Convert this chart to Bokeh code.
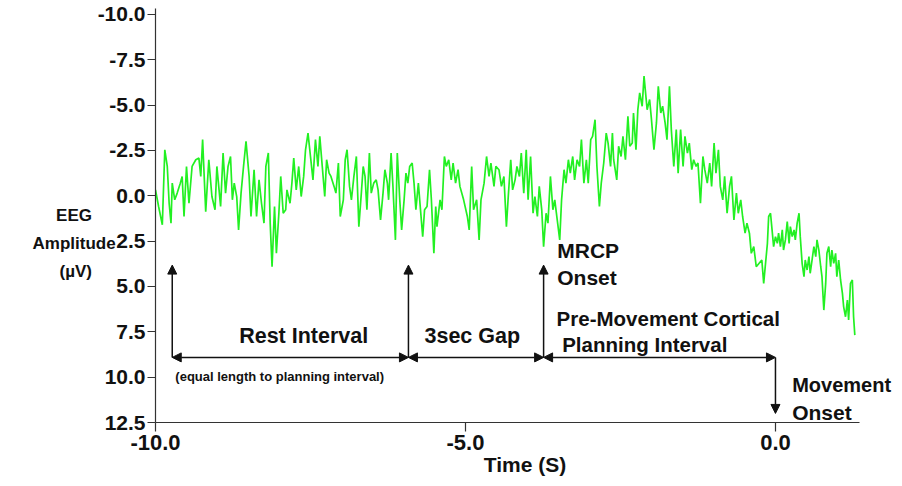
from bokeh.plotting import figure
from bokeh.models import Range1d, FixedTicker, NumeralTickFormatter, Arrow, NormalHead, Label, ColumnDataSource
from bokeh.embed import file_html
from bokeh.resources import INLINE

# ---------------- data ----------------
time_s = [
    -10.00, -9.95, -9.89, -9.85, -9.81, -9.78, -9.75, -9.73, -9.69, -9.65,
    -9.60, -9.57, -9.54, -9.50, -9.46, -9.41, -9.35, -9.30, -9.27, -9.24,
    -9.19, -9.14, -9.09, -9.04, -9.01, -8.95, -8.91, -8.87, -8.83, -8.79,
    -8.76, -8.73, -8.69, -8.66, -8.62, -8.58, -8.54, -8.49, -8.46, -8.41,
    -8.37, -8.33, -8.29, -8.25, -8.22, -8.18, -8.15, -8.12, -8.08, -8.05,
    -8.01, -7.98, -7.94, -7.90, -7.88, -7.83, -7.80, -7.77, -7.73, -7.69,
    -7.65, -7.61, -7.58, -7.54,
    -7.50, -7.46, -7.42, -7.38, -7.35, -7.31, -7.27, -7.24, -7.20, -7.17,
    -7.12, -7.09, -7.05, -7.02, -6.97, -6.94, -6.91, -6.87, -6.84, -6.80,
    -6.76, -6.72, -6.68, -6.65, -6.62, -6.59, -6.55, -6.52, -6.48, -6.44,
    -6.41, -6.37, -6.33, -6.30, -6.26, -6.24, -6.20, -6.17, -6.13, -6.10,
    -6.06, -6.03, -5.99, -5.96, -5.93, -5.90, -5.86, -5.83, -5.80, -5.76,
    -5.73, -5.69, -5.66, -5.62, -5.58, -5.55, -5.51, -5.48, -5.46, -5.41,
    -5.38, -5.34, -5.31, -5.27, -5.23, -5.20, -5.16, -5.12, -5.09,
    -5.03, -4.97, -4.94, -4.90, -4.87, -4.82, -4.78, -4.75, -4.70, -4.66,
    -4.62, -4.59, -4.54, -4.51, -4.46, -4.42, -4.38, -4.34, -4.31, -4.27,
    -4.24, -4.20, -4.17, -4.13, -4.10, -4.06, -4.02, -3.99, -3.95, -3.91,
    -3.88, -3.84, -3.81, -3.77, -3.74, -3.70, -3.67, -3.63, -3.59, -3.56,
    -3.52, -3.48, -3.45, -3.41, -3.38, -3.34, -3.31, -3.27, -3.24, -3.20,
    -3.16, -3.13, -3.09, -3.05, -3.02, -2.98, -2.95, -2.91, -2.88, -2.84,
    -2.81, -2.77, -2.73, -2.70, -2.66,
    -2.63, -2.61, -2.56, -2.53, -2.49, -2.46, -2.42, -2.38, -2.35, -2.31,
    -2.29, -2.25, -2.22, -2.19, -2.15, -2.12, -2.10, -2.07, -2.03, -2.00,
    -1.96, -1.92, -1.89, -1.85, -1.82, -1.78, -1.75, -1.71, -1.68, -1.64,
    -1.60, -1.57, -1.53, -1.49, -1.46, -1.42, -1.39, -1.35, -1.32, -1.28,
    -1.25, -1.21, -1.17, -1.14, -1.10, -1.06, -1.03, -0.99, -0.96, -0.92,
    -0.89, -0.85, -0.82, -0.78, -0.74, -0.71, -0.67, -0.63, -0.60, -0.56,
    -0.53, -0.49, -0.46, -0.42, -0.39, -0.35, -0.31,
    -0.22, -0.19, -0.16, -0.13, -0.11, -0.08, -0.05, -0.03, 0.00, 0.03,
    0.05, 0.08, 0.11, 0.13, 0.16, 0.19, 0.22, 0.24, 0.27, 0.30,
    0.32, 0.35, 0.38, 0.40, 0.43, 0.46, 0.48, 0.51, 0.54, 0.56,
    0.59, 0.62, 0.65, 0.67, 0.70, 0.73, 0.75, 0.78, 0.81, 0.83,
    0.86, 0.89, 0.91, 0.94, 0.97, 0.99, 1.02, 1.05, 1.08, 1.10,
    1.13, 1.16, 1.18, 1.21, 1.24, 1.26, 1.28,
]
amplitude_uv = [
    -0.33, 0.59, 1.60, -2.54, -1.62, 0.41, 1.51, -0.70, 0.22, -0.15,
    -0.70, -1.07, 1.14, -1.62, 0.41, -1.62, -1.99, -2.08, -1.07, -3.10,
    0.87, -1.99, 0.04, 0.77, -1.62, 0.59, -2.36, -0.15, -1.62, -2.17,
    0.22, -0.70, 0.04, 1.88, -0.15, -1.62, -3.00, -1.07, 1.14, -1.44,
    1.14, -0.88, 0.41, 1.51, -1.62, -2.36, 1.51, 3.91, 0.59, 3.17,
    0.96, -1.07, 0.96, 0.77, -0.33, 0.41, -0.70, -2.08, -0.33, -1.62,
    0.04, -1.07, -2.54, -3.46,
    -2.17, -0.88, -3.10, -1.62, -3.28, -1.62, 0.04, -1.99, -1.25, -1.07,
    -0.52, -0.15, -1.81, 1.14, 0.22, -1.99, -2.54, -0.52, 0.22, -1.07,
    -2.17, 1.70, -0.15, -1.62, -1.07, 0.77, -2.36, -0.15, -0.70, -0.88,
    -0.33, 1.33, -0.15, -1.44, -0.70, 0.22, -2.36, -0.52, 2.43, -2.36,
    0.22, 1.88, 0.22, -1.25, -0.70, -1.62, -1.81, -0.70, 0.77, -0.70,
    0.59, 2.25, 0.77, 0.59, -1.44, 0.22, 3.17, 0.59, 1.70, 0.22,
    0.77, -2.17, -1.62, -1.99, -0.88, -1.81, -0.70, -1.44, -0.52,
    0.22, 1.14, 1.88, -1.62, 0.77, 0.22, 2.43, 0.22, -0.70, -2.17,
    -1.07, -1.81, -0.52, -1.62, -1.44, -0.52, -1.07, 1.70, 0.04, -1.99,
    -0.33, -0.88, -1.62, -1.07, -2.36, -0.15, -2.54, 0.22, -2.17, 0.96,
    0.04, 1.14, -0.52, 0.77, 2.80, 0.96, 1.51, -1.07, 0.77, 0.22,
    1.33, 2.43, 0.22, -1.44, -0.70, -1.99, -1.25, -2.17, -0.88, -1.99,
    -1.62, -3.10, -0.70, -1.99, -0.70, -3.10, -3.28, -4.20, -1.62, 0.59,
    -0.70, -1.81, -3.46, -2.91, -1.62,
    -3.46, -1.99, -0.88, -2.73, -2.17, -3.28, -1.99, -4.38, -2.73, -2.91,
    -4.57, -2.54, -4.75, -5.68, -4.94, -6.60, -5.86, -4.75, -5.31, -4.20,
    -2.54, -4.02, -6.04, -4.57, -4.94, -4.02, -3.10, -6.04, -3.65, -1.62,
    -3.65, -1.25, -3.65, -1.62, -3.28, -2.36, -2.91, -1.44, -1.99, -1.62,
    -1.81, 0.41, -2.17, -1.44, -0.70, -1.81, -0.52, -2.91, -1.25, -2.54,
    -0.52, 0.22, -1.07, 0.96, -0.52, -1.07, 1.33, -0.15, 0.96, 0.22,
    1.14, 2.06, 1.51, 2.06, 3.17, 2.80, 3.91,
    3.54, 4.83, 3.72, 2.62, 1.14, 0.96, 2.06, 2.80, 2.25, 2.62,
    2.06, 2.80, 1.88, 2.99, 2.43, 1.42, 2.62, 1.70, 2.25, 1.88,
    2.43, 1.51, 0.96, 2.25, 3.72, 4.46, 3.54, 4.09, 3.35, 4.27,
    3.54, 2.80, 3.35, 2.43, 2.99, 3.91, 4.46, 6.30, 4.83, 3.17,
    2.80, 3.91, 2.99, 3.72, 3.17, 4.46, 3.54, 4.64, 5.38, 6.12,
    6.67, 5.75, 6.85, 4.83, 4.64, 6.67, 7.68,
]

x_ticks = [-10.0, -5.0, 0.0]
y_ticks = [-10.0, -7.5, -5.0, -2.5, 0.0, 2.5, 5.0, 7.5, 10.0, 12.5]

# event markers (s) : rest start, gap start, MRCP onset, movement onset
rest_start = -9.73
gap_start = -5.92
mrcp_onset = -3.74
movement_onset = 0.0
interval_level = 8.91     # uV level of the horizontal interval arrows
marker_top = 3.82         # tip of the upward arrows
movement_tip = 12.0       # tip of the downward movement arrow

FONT = "Liberation Sans"
INK = "#111111"
NB = "\u00a0"

p = figure(width=894, height=478, output_backend="svg", toolbar_location=None,
           x_range=Range1d(-10, 1.92), y_range=Range1d(12.5, -10.33),
           min_border_left=155, min_border_right=0, min_border_top=8,
           min_border_bottom=56, background_fill_color="white",
           border_fill_color="white")
p.outline_line_color = None
p.grid.visible = False

src = ColumnDataSource(dict(t=time_s, v=amplitude_uv))
p.line("t", "v", source=src, line_color="#22f022", line_width=1.7)

# axes
for ax in (p.xaxis[0], p.yaxis[0]):
    ax.axis_line_color = "#333333"
    ax.axis_line_width = 1.2
    ax.major_tick_line_color = "#333333"
    ax.major_tick_line_width = 1.2
    ax.major_tick_in = 0
    ax.minor_tick_line_color = None
    ax.major_label_text_font = FONT
    ax.major_label_text_font_style = "bold"
    ax.major_label_text_color = INK
    ax.formatter = NumeralTickFormatter(format="0.0")

p.xaxis.ticker = FixedTicker(ticks=x_ticks)
p.yaxis.ticker = FixedTicker(ticks=y_ticks)
p.xaxis.bounds = (-10, 1.36)
p.xaxis.major_tick_out = 9
p.xaxis.major_label_standoff = 3
p.xaxis.major_label_text_font_size = "22px"
p.xaxis.axis_label = "Time (S)"
p.xaxis.axis_label_text_font = FONT
p.xaxis.axis_label_text_font_style = "bold"
p.xaxis.axis_label_text_font_size = "21px"
p.xaxis.axis_label_text_color = INK
p.xaxis.axis_label_standoff = 0
p.yaxis.major_tick_out = 8
p.yaxis.major_label_standoff = 2
p.yaxis.major_label_text_font_size = "21px"

# y axis title: horizontal, three centred lines (padded, the block is right-aligned)
p.yaxis.axis_label = "\n".join([NB, NB, "EEG" + NB * 5, "Amplitude", "(µV)" + NB * 5])
p.yaxis.axis_label_orientation = "horizontal"
p.yaxis.axis_label_text_font = FONT
p.yaxis.axis_label_text_font_style = "bold"
p.yaxis.axis_label_text_font_size = "17px"
p.yaxis.axis_label_text_color = INK
p.yaxis.axis_label_text_line_height = 1.47
p.yaxis.axis_label_standoff = -21

def head():
    return NormalHead(size=9, fill_color=INK, line_color=INK, line_width=1)

# vertical marker arrows
for xm in (rest_start, gap_start, mrcp_onset):
    p.add_layout(Arrow(end=head(), x_start=xm, y_start=interval_level,
                       x_end=xm, y_end=marker_top, line_color=INK, line_width=1.5))
p.add_layout(Arrow(end=head(), x_start=movement_onset, y_start=interval_level,
                   x_end=movement_onset, y_end=movement_tip,
                   line_color=INK, line_width=1.5))
# horizontal interval arrows
for a, b in ((rest_start, gap_start), (gap_start, mrcp_onset), (mrcp_onset, movement_onset)):
    p.add_layout(Arrow(start=head(), end=head(), x_start=a, y_start=interval_level,
                       x_end=b, y_end=interval_level, line_color=INK, line_width=1.5))

def lab(x, y, text, size="20px", align="left"):
    p.add_layout(Label(x=x, y=y, text=text, text_align=align, text_baseline="middle",
                       text_font=FONT, text_font_style="bold", text_font_size=size,
                       text_color=INK))

lab(-7.61, 7.75, "Rest Interval", "21.5px", "center")
lab(-4.89, 7.75, "3sec Gap", "21.5px", "center")
lab(-9.68, 9.96, "(equal length to planning interval)", "13px")
lab(-3.52, 3.04, "MRCP", "21px")
lab(-3.52, 4.48, "Onset", "21px")
lab(-3.53, 6.74, "Pre-Movement Cortical", "20.5px")
lab(-3.44, 8.18, "Planning Interval", "20.5px")
lab(0.27, 10.45, "Movement", "20px")
lab(0.27, 11.94, "Onset", "21px")

open("out.html", "w").write(file_html(p, INLINE))
